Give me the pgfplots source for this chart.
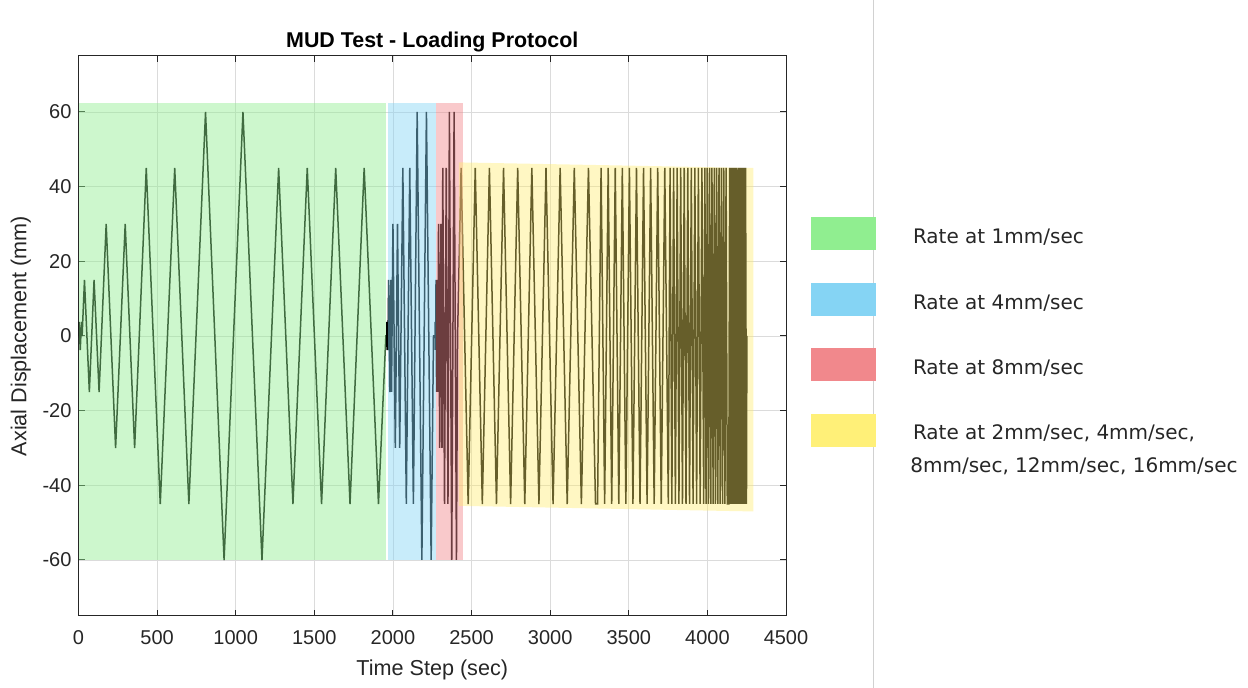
\documentclass[border=0pt]{standalone}
\usepackage{pgfplots}
\pgfplotsset{compat=1.18}
\usepackage{fontspec}
\setmainfont{Liberation Sans}
\newfontfamily\dejavu{DejaVu Sans}
\definecolor{axc}{RGB}{38,38,38}
\definecolor{lgreen}{RGB}{144,238,144}
\definecolor{lblue}{RGB}{133,212,244}
\definecolor{lred}{RGB}{241,136,140}
\definecolor{lyellow}{RGB}{255,240,120}
\definecolor{ryellow}{RGB}{255,236,105}
\begin{document}
\begin{tikzpicture}
\useasboundingbox (0,0) rectangle (624pt,344pt);
\draw[color=black!18, line width=0.5pt] (436.5pt,0) -- (436.5pt,344pt);
\begin{axis}[at={(39.25pt,36pt)}, anchor=south west, scale only axis,
 width=353.75pt, height=280pt,
 xmin=0, xmax=4500, ymin=-75, ymax=75,
 xtick={0,500,...,4500}, ytick={-60,-40,...,60},
 grid=major, major grid style={color=black!14, line width=0.4pt},
 axis line style={color=axc, line width=0.5pt},
 tick style={color=axc, line width=0.5pt}, major tick length=3pt, tick align=inside,
 ticklabel style={font=\fontsize{10}{12}\selectfont, color=axc},
 /pgf/number format/assume math mode=true, /pgf/number format/1000 sep={},
 scaled ticks=false,
 xticklabel style={yshift=-3.5pt},
 title={MUD Test - Loading Protocol},
 title style={at={(axis description cs:0.5,0.9936)}, anchor=base, font=\bfseries\fontsize{10.7}{13}\selectfont, color=black},
 xlabel={Time Step (sec)},
 xlabel style={at={(axis description cs:0.5,-0.107)}, anchor=base, font=\fontsize{10.8}{13}\selectfont, color=axc},
 ylabel={Axial Displacement (mm)},
 ylabel style={at={(axis description cs:-0.0735,0.5)}, anchor=base, font=\fontsize{10.8}{13}\selectfont, color=axc},
]
\addplot[black, line width=0.75pt] coordinates {
(0,0) (4,3.75) (11,-3.75) (19,3.75) (23,0) (38,15) (69,-15) (99,15) (131,-15) (176,30) (236,-30) (297,30) (357,-30) (431,45) (520,-45) (612,45) (702,-45) (808,60) (926,-60) (1046,60) (1167,-60) (1273,45) (1364,-45) (1455,45) (1546,-45) (1636,45) (1727,-45) (1817,45) (1908,-45) (1955,0)
(1961,0) (1962,3.75) (1964,-3.75) (1966,3.75) (1968,-3.75) (1969,0) (1973,15) (1980,-15) (1987,15) (1991,-15) (2000,30) (2015,-30) (2029,30) (2043,-30) (2063,45) (2085,-45) (2107,45) (2130,-45) (2154,60) (2184,-60) (2213,60) (2243,-60) (2258,0)
(2268,0) (2268.5,3.75) (2269.5,-3.75) (2270.5,3.75) (2271.5,-3.75) (2272,0) (2274,15) (2277.5,-15) (2281,15) (2284.5,-15) (2290,30) (2297.5,-30) (2305,30) (2312,-30) (2317,45) (2328,-45) (2339,45) (2350,-45) (2359,60) (2374,-60) (2389,60) (2404,-60) (2411,0)
(2433.5,45) (2478.5,-45) (2523.5,45) (2568.5,-45) (2613.5,45) (2658.5,-45) (2703.5,45) (2748.5,-45) (2793.5,45) (2838.5,-45) (2883.5,45) (2928.5,-45) (2973.5,45) (3018.5,-45) (3063.5,45) (3108.5,-45) (3153.5,45) (3198.5,-45) (3243.5,45) (3288.5,-45) (3301.5,-45)
(3324,45) (3346.5,-45) (3369,45) (3391.5,-45) (3414,45) (3436.5,-45) (3459,45) (3481.5,-45) (3504,45) (3526.5,-45) (3549,45) (3571.5,-45) (3594,45) (3616.5,-45) (3639,45) (3661.5,-45) (3684,45) (3706.5,-45) (3729,45) (3751.5,-45)
(3762.75,45) (3774,-45) (3785.25,45) (3796.5,-45) (3807.75,45) (3819,-45) (3830.25,45) (3841.5,-45) (3852.75,45) (3864,-45) (3875.25,45) (3886.5,-45) (3897.75,45) (3909,-45) (3920.25,45) (3931.5,-45) (3942.75,45) (3954,-45) (3965.25,45) (3976.5,-45)
(3984,45) (3991.5,-45) (3999,45) (4006.5,-45) (4014,45) (4021.5,-45) (4029,45) (4036.5,-45) (4044,45) (4051.5,-45) (4059,45) (4066.5,-45) (4074,45) (4081.5,-45) (4089,45) (4096.5,-45) (4104,45) (4111.5,-45) (4119,45) (4126.5,-45) (4136,-45)
(4141.6,45) (4147.3,-45) (4152.9,45) (4158.5,-45) (4164.1,45) (4169.8,-45) (4175.4,45) (4181,-45) (4186.6,45) (4192.3,-45) (4197.9,45) (4203.5,-45) (4209.1,45) (4214.8,-45) (4220.4,45) (4226,-45) (4231.6,45) (4237.3,-45) (4242.9,45) (4248.5,-45) (4251.3,0)
};
\addplot[fill=lgreen, fill opacity=0.45, draw=none] coordinates {(0,-60) (1956,-60) (1956,62.3) (0,62.3)};
\addplot[fill=lblue, fill opacity=0.45, draw=none] coordinates {(1970,-60) (2272,-60) (2272,62.3) (1970,62.3)};
\addplot[fill=lred, fill opacity=0.45, draw=none] coordinates {(2272,-60) (2444,-60) (2444,62.3) (2272,62.3)};
\addplot[fill=ryellow, fill opacity=0.4, draw=none] coordinates {(2420,-45.5) (4293,-47) (4293,45) (2420,46.5)};
\end{axis}
\fill[lgreen] (405.5pt,219pt) rectangle (438pt,235.35pt);
\fill[lblue] (405.5pt,186.15pt) rectangle (438pt,202.65pt);
\fill[lred] (405.5pt,153.5pt) rectangle (438pt,169.85pt);
\fill[lyellow] (405.5pt,120.65pt) rectangle (438pt,137.15pt);
\begin{scope}[every node/.style={anchor=base west, inner sep=0pt, font=\dejavu\fontsize{10}{12}\selectfont, text=axc}]
\node at (456.3pt,222pt) {Rate at 1mm/sec};
\node at (456.3pt,189pt) {Rate at 4mm/sec};
\node at (456.3pt,156.5pt) {Rate at 8mm/sec};
\node at (456.3pt,124pt) {Rate at 2mm/sec, 4mm/sec,};
\node at (455pt,107.5pt) {8mm/sec, 12mm/sec, 16mm/sec};
\end{scope}
\end{tikzpicture}
\end{document}
